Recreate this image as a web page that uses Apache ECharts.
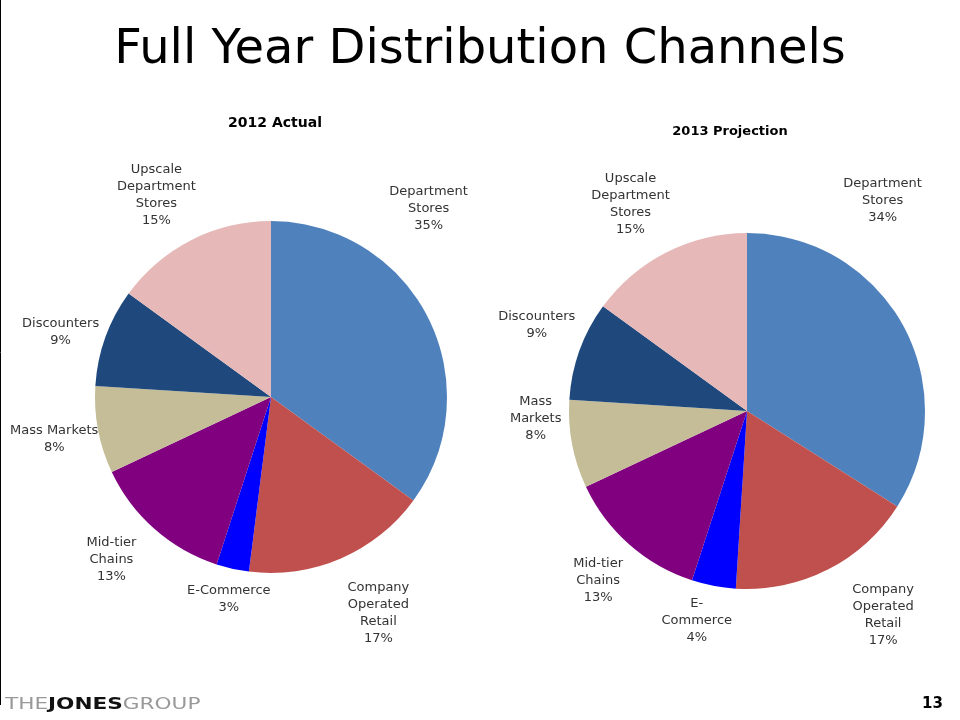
<!DOCTYPE html>
<html>
<head>
<meta charset="utf-8">
<script src="https://cdn.jsdelivr.net/npm/echarts@6/dist/echarts.min.js"></script>
<style>
html,body{margin:0;padding:0;background:#fff;}
#chart{width:960px;height:720px;}
</style>
</head>
<body>
<div id="chart"></div>
<script>
var categories2012 = ['Department\nStores', 'Company\nOperated\nRetail', 'E-Commerce', 'Mid-tier\nChains', 'Mass Markets', 'Discounters', 'Upscale\nDepartment\nStores'];
var values2012 = [35, 17, 3, 13, 8, 9, 15];
var categories2013 = ['Department\nStores', 'Company\nOperated\nRetail', 'E-\nCommerce', 'Mid-tier\nChains', 'Mass\nMarkets', 'Discounters', 'Upscale\nDepartment\nStores'];
var values2013 = [34, 17, 4, 13, 8, 9, 15];
var sliceColors = ['#4F81BD', '#C0504D', '#0000FF', '#800080', '#C4BD97', '#1F497D', '#E6B9B8'];

function buildData(cats, vals) {
  return cats.map(function (c, i) {
    return { name: c, value: vals[i], itemStyle: { color: sliceColors[i] } };
  });
}

// label nudges (layout styling, relative to ECharts' own outside label placement)
var nudgeLeft = [[-56, -102], [-4, 42], [46, 17], [-4, 20], [19, 7], [12, -1], [16, -33]];
var nudgeRight = [[-77, -118], [13, 33], [26, 21], [8, 26], [8, -28], [14, -21], [15, -36]];

var labelFont = 'DejaVu Sans';
function pieSeries(cats, vals, center, radius, nudge) {
  return {
    type: 'pie',
    center: center,
    radius: radius,
    startAngle: 90,
    clockwise: true,
    animation: false,
    avoidLabelOverlap: false,
    data: buildData(cats, vals),
    itemStyle: { borderWidth: 0 },
    label: {
      show: true,
      position: 'outside',
      overflow: 'none',
      formatter: function (p) { return p.name + '\n' + p.value + '%'; },
      fontFamily: labelFont,
      fontSize: 13,
      lineHeight: 17,
      color: '#333'
    },
    labelLine: { show: false, length: 14, length2: 0 },
    labelLayout: function (params) {
      var r = params.labelRect;
      var n = nudge[params.dataIndex];
      return {
        x: r.x + r.width / 2 + n[0],
        y: r.y + r.height / 2 + n[1],
        align: 'center',
        verticalAlign: 'middle'
      };
    },
    emphasis: { disabled: true }
  };
}

var chart = echarts.init(document.getElementById('chart'), null, { renderer: 'canvas' });
chart.setOption({
  backgroundColor: '#ffffff',
  title: [
    {
      text: 'Full Year Distribution Channels',
      left: 'center',
      top: 22,
      textStyle: { fontFamily: 'DejaVu Sans', fontSize: 48, fontWeight: 'normal', color: '#000' }
    },
    {
      text: '2012 Actual',
      left: 270,
      top: 111,
      textAlign: 'center',
      textStyle: { fontFamily: 'DejaVu Sans', fontSize: 14, fontWeight: 'bold', color: '#000' }
    },
    {
      text: '2013 Projection',
      left: 725,
      top: 120,
      textAlign: 'center',
      textStyle: { fontFamily: 'DejaVu Sans', fontSize: 13, fontWeight: 'bold', color: '#000' }
    }
  ],
  graphic: [
    { type: 'line', shape: { x1: 0.5, y1: 0, x2: 0.5, y2: 705 }, style: { stroke: '#000', lineWidth: 1 } },
    {
      type: 'text', x: 5, y: 697, scaleX: 1.35,
      style: {
        text: '{t|THE}{b|JONES}{t|GROUP}',
        rich: {
          t: { fontFamily: 'DejaVu Sans', fontSize: 16, fontWeight: 'normal', fill: '#999' },
          b: { fontFamily: 'DejaVu Sans', fontSize: 16, fontWeight: 'bold', fill: '#111' }
        }
      }
    },
    {
      type: 'text', left: 922, top: 697,
      style: { text: '13', fontFamily: 'DejaVu Sans', fontSize: 15, fontWeight: 'bold', fill: '#000' }
    }
  ],
  series: [
    pieSeries(categories2012, values2012, [271, 397], 176, nudgeLeft),
    pieSeries(categories2013, values2013, [747, 411], 178, nudgeRight)
  ]
});
</script>
</body>
</html>
